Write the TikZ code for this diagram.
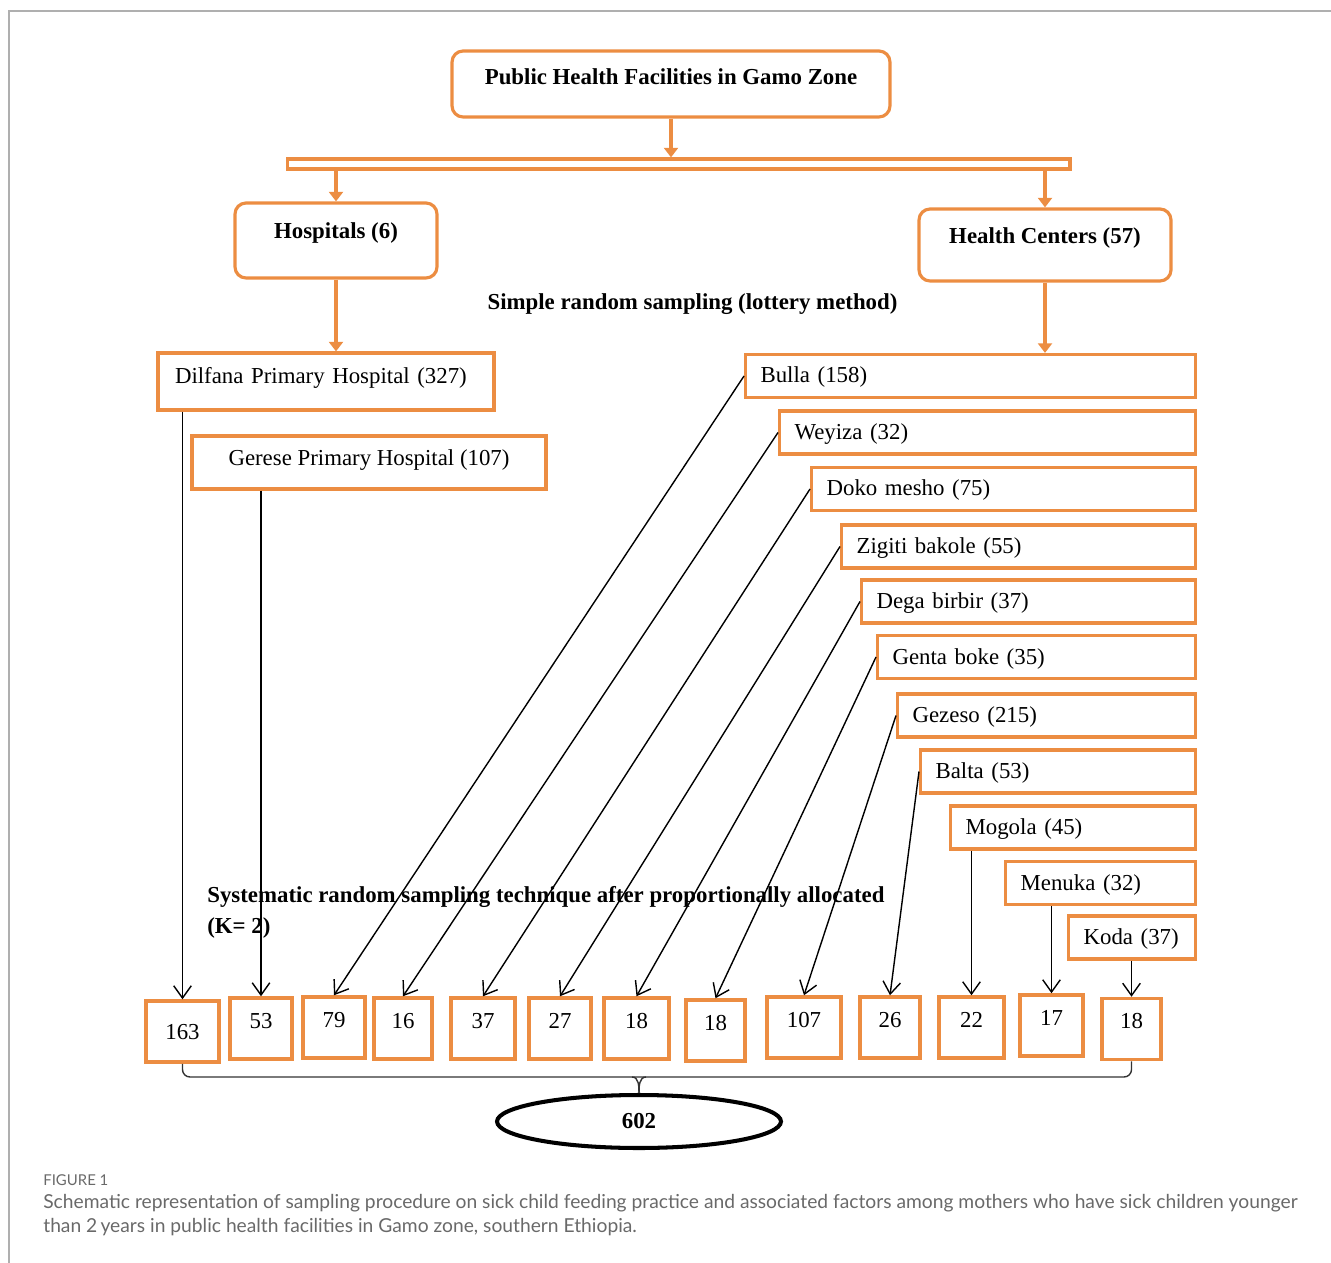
\documentclass[tikz,border=0pt]{standalone}
\usepackage{fontspec}
\setmainfont{Liberation Serif}
\newfontfamily\capfont{Lato}
\usepackage{tikz}
\usetikzlibrary{arrows.meta,shapes.geometric}
\definecolor{boxorange}{RGB}{236,141,66}
\definecolor{capgray}{RGB}{105,105,105}
\definecolor{framegray}{RGB}{175,175,175}

\begin{document}
\begin{tikzpicture}[x=0.02cm, y=-0.02cm]
        \tikzset{every node/.style = {font=\fontsize{13}{15.6}\selectfont}}
        \tikzset{roundbox/.style = {draw=boxorange, line width=1.8pt, rounded corners=0.22cm, font=\fontsize{13}{15.6}\selectfont\bfseries, text height=0.33cm}}
        \tikzset{hospbox/.style = {draw=boxorange, line width=1.8pt, text height=0.33cm, text depth=0.23cm}}
        \tikzset{hcbox/.style = {draw=boxorange, line width=1.8pt, anchor=west, inner xsep=0.3cm, align=left, minimum height=0.86cm, text height=0.33cm, text depth=0.05cm}}
        \tikzset{numbox/.style = {draw=boxorange, line width=2pt, minimum height=1.22cm, text height=0.3cm, text depth=0.31cm}}
        \tikzset{totalbox/.style = {draw, ellipse, line width=2.3pt, minimum width=5.68cm, minimum height=1.06cm, font=\fontsize{13}{15.6}\selectfont\bfseries}}
        \tikzset{orangearrow/.style = {-{Triangle[length=5.5pt,width=8pt]}, line width=2.4pt, draw=boxorange}}
        \tikzset{blackarrow/.style = {-{Straight Barb[length=7pt,width=10pt]}, line width=0.8pt}}
        \tikzset{brace/.style = {line width=0.8pt, draw=black!80}}
        \tikzset{boldtext/.style = {font=\fontsize{13}{17.6}\selectfont\bfseries, inner sep=0pt}}
        \useasboundingbox (0,0) rectangle (1331,1263);
        % frame
        \draw[framegray, line width=0.04cm] (9,1263) -- (9,11) -- (1331,11);

        % top levels
        \node[roundbox, minimum width=8.76cm, minimum height=1.32cm, text depth=0.31cm] (gamo) at (671,84) {Public Health Facilities in Gamo Zone};
        \node[draw=boxorange, line width=1.8pt, minimum width=15.66cm, minimum height=0.2cm, inner sep=0pt] (bar) at (678.5,164) {};
        \node[roundbox, minimum width=4.04cm, minimum height=1.5cm, text depth=0.39cm] (hosp) at (336,240.5) {Hospitals (6)};
        \node[roundbox, minimum width=5.04cm, minimum height=1.44cm, text depth=0.39cm] (hc) at (1045,245) {Health Centers (57)};
        \node[boldtext] (srs) at (692.5,304) {Simple random sampling (lottery method)};

        % hospitals
        \node[hospbox, minimum width=6.72cm, minimum height=1.14cm, inner xsep=0.34cm, text width=6.04cm, align=left] (dilfana) at (326,381.5) {Dilfana Primary Hospital (327)};
        \node[hospbox, minimum width=7.08cm, minimum height=1.06cm] (gerese) at (369,462.5) {Gerese Primary Hospital (107)};

        % health centers
        \node[hcbox, text width=8.40cm] (bulla) at (744,376) {Bulla (158)};
        \node[hcbox, text width=7.72cm] (weyiza) at (778,432.5) {Weyiza (32)};
        \node[hcbox, text width=7.08cm] (doko) at (810,489) {Doko mesho (75)};
        \node[hcbox, text width=6.48cm] (zigiti) at (840,546.5) {Zigiti bakole (55)};
        \node[hcbox, text width=6.08cm] (dega) at (860,601.5) {Dega birbir (37)};
        \node[hcbox, text width=5.76cm] (genta) at (876,657) {Genta boke (35)};
        \node[hcbox, text width=5.36cm] (gezeso) at (896,715.5) {Gezeso (215)};
        \node[hcbox, text width=4.90cm] (balta) at (919,771.5) {Balta (53)};
        \node[hcbox, text width=4.30cm] (mogola) at (949,827.5) {Mogola (45)};
        \node[hcbox, text width=3.20cm] (menuka) at (1004,883) {Menuka (32)};
        \node[hcbox, text width=1.94cm] (koda) at (1067,937.5) {Koda (37)};

        \node[boldtext, anchor=north west, align=left] (srt) at (207,886) {Systematic random sampling technique after proportionally allocated\\(K= 2)};

        % samples
        \node[numbox, minimum width=1.46cm, text depth=0cm] (n163) at (182.5,1031.5) {163};
        \node[numbox, minimum width=1.24cm] (n53) at (261,1028.5) {53};
        \node[numbox, minimum width=1.24cm] (n79) at (334,1027.5) {79};
        \node[numbox, minimum width=1.16cm] (n16) at (403,1028.5) {16};
        \node[numbox, minimum width=1.28cm] (n37) at (483,1028.5) {37};
        \node[numbox, minimum width=1.24cm] (n27) at (560,1028.5) {27};
        \node[numbox, minimum width=1.30cm] (n18a) at (636.5,1028.5) {18};
        \node[numbox, minimum width=1.18cm] (n18b) at (715.5,1030.5) {18};
        \node[numbox, minimum width=1.48cm] (n107) at (804,1027.5) {107};
        \node[numbox, minimum width=1.20cm] (n26) at (890,1027.5) {26};
        \node[numbox, minimum width=1.30cm] (n22) at (971.5,1027.5) {22};
        \node[numbox, minimum width=1.26cm] (n17) at (1051.5,1025.5) {17};
        \node[numbox, minimum width=1.18cm] (n18c) at (1131.5,1029) {18};

        \node[totalbox] (total) at (639,1121.5) {602};

        %orange arrows
        \draw[orangearrow] (gamo.south) -- (gamo.south |- bar.north);
        \draw[orangearrow] (hosp.north |- bar.south) -- (hosp.north);
        \draw[orangearrow] (hc.north |- bar.south) -- (hc.north);
        \draw[orangearrow] (hosp.south) -- (hosp.south |- dilfana.north);
        \draw[orangearrow] (hc.south) -- (hc.south |- bulla.north);

        %black arrows
        \draw[blackarrow] (dilfana.south -| n163.north) -- (n163.north);
        \draw[blackarrow] (gerese.south -| n53.north) -- (n53.north);
        \draw[blackarrow] (bulla.west) -- (n79.north);
        \draw[blackarrow] (weyiza.west) -- (n16.north);
        \draw[blackarrow] (doko.west) -- (n37.north);
        \draw[blackarrow] (zigiti.west) -- (n27.north);
        \draw[blackarrow] (dega.west) -- (n18a.north);
        \draw[blackarrow] (genta.west) -- (n18b.north);
        \draw[blackarrow] (gezeso.west) -- (n107.north);
        \draw[blackarrow] (balta.west) -- (n26.north);
        \draw[blackarrow] (mogola.south -| n22.north) -- (n22.north);
        \draw[blackarrow] (menuka.south -| n17.north) -- (n17.north);
        \draw[blackarrow] (koda.south -| n18c.north) -- (n18c.north);

        %brace
        \coordinate (bracemid) at (639,1077);
        \draw[brace, rounded corners=0.15cm] (n163.south) |- (bracemid) -| (n18c.south);
        \draw[brace] ([xshift=-0.14cm]bracemid) to[out=0, in=90] (total.north);
        \draw[brace] ([xshift=0.14cm]bracemid) to[out=180, in=90] (total.north);

        % caption
        \node[anchor=west, inner sep=0pt, text=capgray, font=\capfont\fontsize{8.5}{10}\selectfont] (fig) at (43,1180) {FIGURE 1};
        \node[anchor=north west, inner sep=0pt, align=left, text=capgray, font=\capfont\fontsize{10.95}{13.6}\selectfont] (caption) at (43,1194) {Schematic representation of sampling procedure on sick child feeding practice and associated factors among mothers who have sick children younger\\than 2\,years in public health facilities in Gamo zone, southern Ethiopia.};
\end{tikzpicture}
\end{document}
